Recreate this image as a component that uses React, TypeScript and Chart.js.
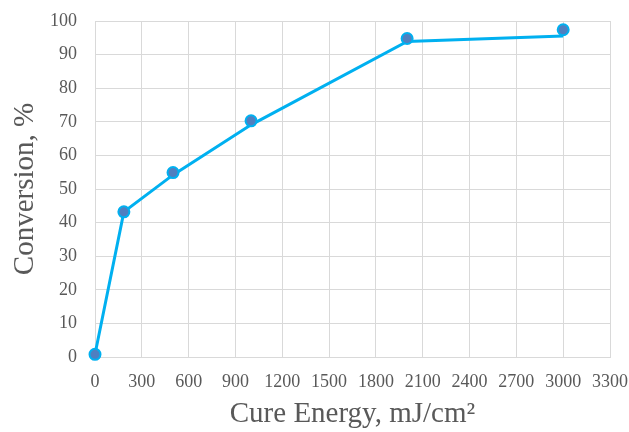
import React, { useEffect, useRef } from "react";
import { Chart, registerables } from "chart.js";

Chart.register(...registerables);

const energy = [0, 185, 500, 1000, 2000, 3000];
const conversion = [0.8, 43.2, 54.9, 70.3, 94.8, 97.4];
const fitConversion = [0.8, 43.2, 54.2, 69.1, 93.9, 95.5];
const xTicks = [0, 300, 600, 900, 1200, 1500, 1800, 2100, 2400, 2700, 3000, 3300];
const yTicks = [0, 10, 20, 30, 40, 50, 60, 70, 80, 90, 100];

const FONT = "'Liberation Serif', 'Times New Roman', serif";
const TEXT = "#595959";
const GRID = "#d9d9d9";

export default function App() {
  const ref = useRef<HTMLCanvasElement>(null);
  useEffect(() => {
    document.body.style.margin = "0";
    const ctx = ref.current!;
    const chart = new Chart(ctx, {
      type: "scatter",
      data: {
        datasets: [
          {
            label: "Measured",
            data: energy.map((x, i) => ({ x, y: conversion[i] })),
            showLine: false,
            pointRadius: 5.5,
            pointBorderWidth: 2,
            pointBackgroundColor: "#4f7fc0",
            pointBorderColor: "#00b0f0",
            clip: false,
            order: 1,
          },
          {
            label: "Fit",
            data: energy.map((x, i) => ({ x, y: fitConversion[i] })),
            showLine: true,
            borderColor: "#00b0f0",
            borderWidth: 3,
            pointRadius: 0,
            tension: 0,
            clip: false,
            order: 2,
          },
        ],
      },
      options: {
        animation: false,
        responsive: false,
        maintainAspectRatio: false,
        layout: { padding: { top: 21, right: 19, left: 0, bottom: 0 } },
        plugins: { legend: { display: false }, tooltip: { enabled: false } },
        scales: {
          x: {
            type: "linear",
            min: 0,
            max: 3300,
            afterBuildTicks: (s: any) => {
              s.ticks = xTicks.map((v) => ({ value: v }));
            },
            afterFit: (s: any) => {
              s.height = 75;
              s.paddingLeft = 0;
              s.paddingRight = 0;
            },
            grid: { color: GRID, lineWidth: 1, drawTicks: false },
            border: { color: GRID, width: 1 },
            ticks: {
              color: TEXT,
              font: { family: FONT, size: 18 },
              padding: 14,
              maxRotation: 0,
              autoSkip: false,
              callback: (v: any) => String(v),
            },
            title: {
              display: true,
              text: "Cure Energy, mJ/cm²",
              color: TEXT,
              font: { family: FONT, size: 29 },
              padding: { top: 0, bottom: 0 },
            },
          },
          y: {
            type: "linear",
            min: 0,
            max: 100,
            afterBuildTicks: (s: any) => {
              s.ticks = yTicks.map((v) => ({ value: v }));
            },
            afterFit: (s: any) => {
              s.width = 95;
              s.paddingTop = 0;
              s.paddingBottom = 0;
            },
            grid: { color: GRID, lineWidth: 1, drawTicks: false },
            border: { color: GRID, width: 1 },
            ticks: {
              color: TEXT,
              font: { family: FONT, size: 18 },
              padding: 18,
              callback: (v: any) => String(v),
            },
            title: {
              display: true,
              text: "Conversion, %",
              color: TEXT,
              font: { family: FONT, size: 29 },
              padding: { top: 8, bottom: 0 },
            },
          },
        },
      },
    });
    return () => chart.destroy();
  }, []);
  return (
    <div style={{ width: 629, height: 432, background: "#fff" }}>
      <canvas ref={ref} width={629} height={432} style={{ display: "block" }} />
    </div>
  );
}
